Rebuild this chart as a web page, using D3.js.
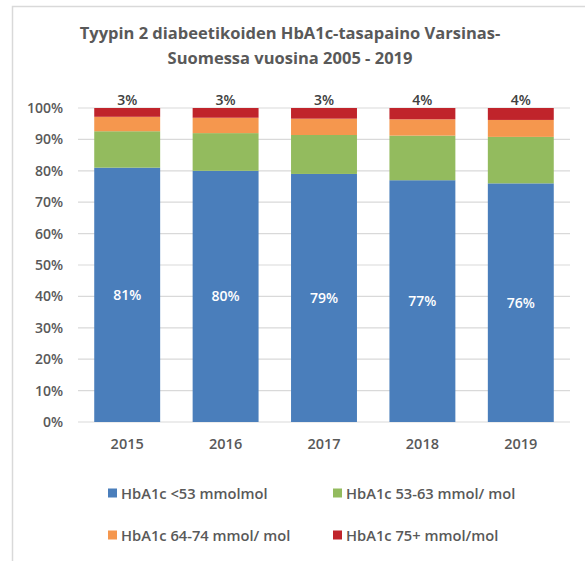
<!DOCTYPE html>
<html><head><meta charset="utf-8">
<script src="https://cdn.jsdelivr.net/npm/d3@7"></script>
<style>body{margin:0;background:#fff;} text{font-family:"Open Sans","Noto Sans",sans-serif;}</style>
</head><body>
<svg id="c" width="585" height="561"></svg>
<script>
const years = ["2015","2016","2017","2018","2019"];
const seriesNames = ["HbA1c <53 mmolmol","HbA1c 53-63 mmol/ mol","HbA1c 64-74 mmol/ mol","HbA1c 75+ mmol/mol"];
const blue = [81, 80, 79, 77, 76];
const green = [11.6, 12.0, 12.4, 14.2, 14.8];
const orange = [4.6, 4.9, 5.2, 5.2, 5.4];
const red = [2.8, 3.1, 3.4, 3.6, 3.8];
const colors = ["#4A7EBB","#93BB5E","#F5974E","#C0242B"];
const yTicks = [0,10,20,30,40,50,60,70,80,90,100];
const titleLines = ["Tyypin 2 diabeetikoiden HbA1c-tasapaino Varsinas-","Suomessa vuosina 2005 - 2019"];

const svg = d3.select("#c");
// frame
svg.append("path").attr("d","M12.5,561 V6.5 H585").attr("fill","none").attr("stroke","#d9d9d9").attr("stroke-width",1.5);

const x = d3.scaleBand().domain(years).range([78,570]).paddingInner(0.33).paddingOuter(0.165);
const y = d3.scaleLinear().domain([0,100]).range([422,108]);

// grid
svg.append("g").selectAll("line").data(yTicks).join("line")
  .attr("x1",78).attr("x2",570).attr("y1",d=>y(d)).attr("y2",d=>y(d))
  .attr("stroke","#d9d9d9").attr("stroke-width",1.2);

// y axis labels
const yAxis = d3.axisLeft(y).tickValues(yTicks).tickFormat(d=>d+"%").tickSize(0).tickPadding(0);
const ga = svg.append("g").attr("transform","translate(63,0)").call(yAxis);
ga.select(".domain").remove();
ga.selectAll("text").attr("fill","#595959").style("font-size","14px").style("font-weight","600").style("font-family","'Open Sans',sans-serif");

// x axis labels
const xAxis = d3.axisBottom(x).tickSize(0).tickPadding(0);
const gx = svg.append("g").attr("transform","translate(0,439)").call(xAxis);
gx.select(".domain").remove();
gx.selectAll("text").attr("fill","#595959").style("font-size","14.5px").style("font-weight","600").style("font-family","'Open Sans',sans-serif");

// stack
const table = years.map((yr,i)=>({year:yr, s0:blue[i], s1:green[i], s2:orange[i], s3:red[i]}));
const stack = d3.stack().keys(["s0","s1","s2","s3"])(table);
svg.append("g").selectAll("g").data(stack).join("g").attr("fill",(d,i)=>colors[i])
  .selectAll("rect").data(d=>d).join("rect")
  .attr("x",d=>x(d.data.year)).attr("width",x.bandwidth())
  .attr("y",d=>y(d[1])).attr("height",d=>y(d[0])-y(d[1]));

// blue labels
svg.append("g").selectAll("text").data(stack[0]).join("text")
  .attr("x",d=>x(d.data.year)+x.bandwidth()/2).attr("y",d=>y((d[0]+d[1])/2)+5)
  .attr("text-anchor","middle").attr("fill","#fff").style("font-size","14px").style("font-weight","600")
  .text(d=>Math.round(d[1]-d[0])+"%");
// red labels
svg.append("g").selectAll("text").data(stack[3]).join("text")
  .attr("x",d=>x(d.data.year)+x.bandwidth()/2).attr("y",d=>y(d[1])-3)
  .attr("text-anchor","middle").attr("fill","#404040").style("font-size","14px").style("font-weight","600")
  .text(d=>Math.round(d[1]-d[0])+"%");

// title
svg.append("g").selectAll("text").data(titleLines).join("text")
  .attr("x",290).attr("y",(d,i)=>39+i*25).attr("text-anchor","middle")
  .attr("fill","#595959").style("font-size","16.5px").style("font-weight","700")
  .text(d=>d);

// legend
const legPos = [[108,493],[333,493],[108,535],[333,535]];
const lg = svg.append("g").selectAll("g").data(seriesNames).join("g")
  .attr("transform",(d,i)=>`translate(${legPos[i][0]},${legPos[i][1]})`);
lg.append("rect").attr("x",0).attr("y",-4.5).attr("width",9).attr("height",9).attr("fill",(d,i)=>colors[i]);
lg.append("text").attr("x",13).attr("y",5.5).attr("fill","#595959").style("font-size","14.7px").style("font-weight","600").text(d=>d);
</script>
</body></html>
